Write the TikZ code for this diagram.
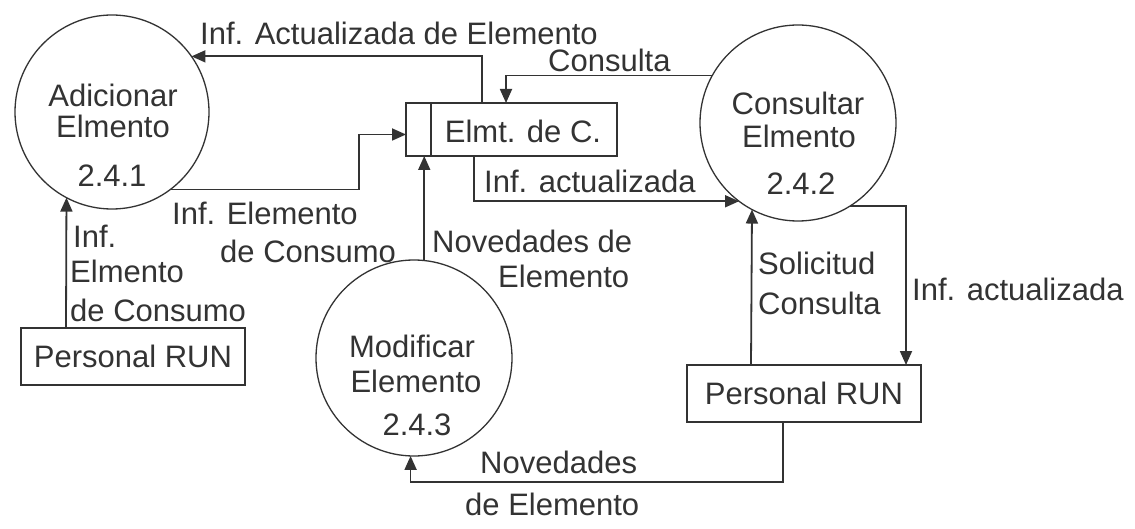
\documentclass[tikz,border=0pt]{standalone}
\usepackage{fontspec}
\setmainfont{Liberation Sans}
\usetikzlibrary{arrows.meta,calc}
\definecolor{ink}{HTML}{333333}
\begin{document}
\begin{tikzpicture}[x=1pt,y=-1pt,
  lbl/.style={font=\fontsize{31}{36}\selectfont, inner sep=0pt, text=ink},
  proc/.style={circle, draw=ink, line width=1.3pt, inner sep=0pt, outer sep=0pt},
  ext/.style={draw=ink, line width=1.8pt, inner sep=0pt, outer sep=0pt, font=\fontsize{31}{36}\selectfont, text=ink},
  flow/.style={draw=ink, line width=1.8pt, -{Triangle[length=14pt,width=12pt]}},
  link/.style={draw=ink, line width=1.8pt}]
\useasboundingbox[fill=white] (0,0) rectangle (1135,529);

% processes
\node[proc, minimum size=194pt] (c1) at (112,112) {};
\node[proc, minimum size=196pt] (c2) at (798,123) {};
\node[proc, minimum size=196pt] (c3) at (414,358) {};

\node[lbl, anchor=base] (c1a) at (113,107) {Adicionar};
\node[lbl, anchor=base] (c1b) at (113,138) {Elmento};
\node[lbl, anchor=base] (c1c) at (112,187) {2.4.1};
\node[lbl, anchor=base] (c2a) at (798,115) {Consultar};
\node[lbl, anchor=base] (c2b) at (799,148) {Elmento};
\node[lbl, anchor=base] (c2c) at (801,195) {2.4.2};
\node[lbl, anchor=base] (c3a) at (412,357) {Modificar};
\node[lbl, anchor=base] (c3b) at (416,392) {Elemento};
\node[lbl, anchor=base] (c3c) at (417,435) {2.4.3};

% data store
\node[ext, minimum width=211pt, minimum height=53pt] (store) at (511.5,129.5) {};
\draw[link] ([xshift=25pt]store.north west) -- ([xshift=25pt]store.south west);
\node[lbl, anchor=base] (storet) at (523,143) {Elmt. de C.};

% externals
\node[ext, minimum width=224pt, minimum height=57pt] (p1) at (133,356.5) {Personal RUN};
\node[ext, minimum width=234pt, minimum height=57pt] (p2) at (804,393.5) {Personal RUN};

% flows
\draw[flow] ([xshift=-29.5pt]store.north) |- (c1.35);
\draw[flow] (c2.151) -| ([xshift=-5.5pt]store.north);
\draw[flow] (c1.-53) -| ([xshift=-47pt,yshift=-5pt]store.west) -- ([yshift=-5pt]store.west);
\draw[flow] ([xshift=-67pt]p1.north) -- (c1.-118.3);
\draw[flow] (c3.84) -- (c3.84 |- store.south);
\draw[flow] ([xshift=-37.5pt]store.south) |- (c2.-127);
\draw[flow] ([xshift=-53pt]p2.north) -- (c2.-118.7);
\draw[flow] (c2.-58.5) -| ([xshift=102pt]p2.north);
\draw[flow] ([xshift=-21pt]p2.south) -- ++(0,60) -| (c3.-92);

% flow labels
\node[lbl, anchor=base west] (l1) at (200,45) {Inf. Actualizada de Elemento};
\node[lbl, anchor=base west] (l2) at (548,72) {Consulta};
\node[lbl, anchor=base west] (l3a) at (172,225) {Inf. Elemento};
\node[lbl, anchor=base west] (l3b) at (220,263) {de Consumo};
\node[lbl, anchor=base west] (l4a) at (73,248) {Inf.};
\node[lbl, anchor=base west] (l4b) at (70,283) {Elmento};
\node[lbl, anchor=base west] (l4c) at (70,322) {de Consumo};
\node[lbl, anchor=base west] (l5a) at (432,253) {Novedades de};
\node[lbl, anchor=base west] (l5b) at (498,288) {Elemento};
\node[lbl, anchor=base west] (l6) at (484,193) {Inf. actualizada};
\node[lbl, anchor=base west] (l7a) at (758,275) {Solicitud};
\node[lbl, anchor=base west] (l7b) at (758,315) {Consulta};
\node[lbl, anchor=base west] (l8) at (912,301) {Inf. actualizada};
\node[lbl, anchor=base west] (l9a) at (480,473) {Novedades};
\node[lbl, anchor=base west] (l9b) at (465,515) {de Elemento};
\end{tikzpicture}
\end{document}
